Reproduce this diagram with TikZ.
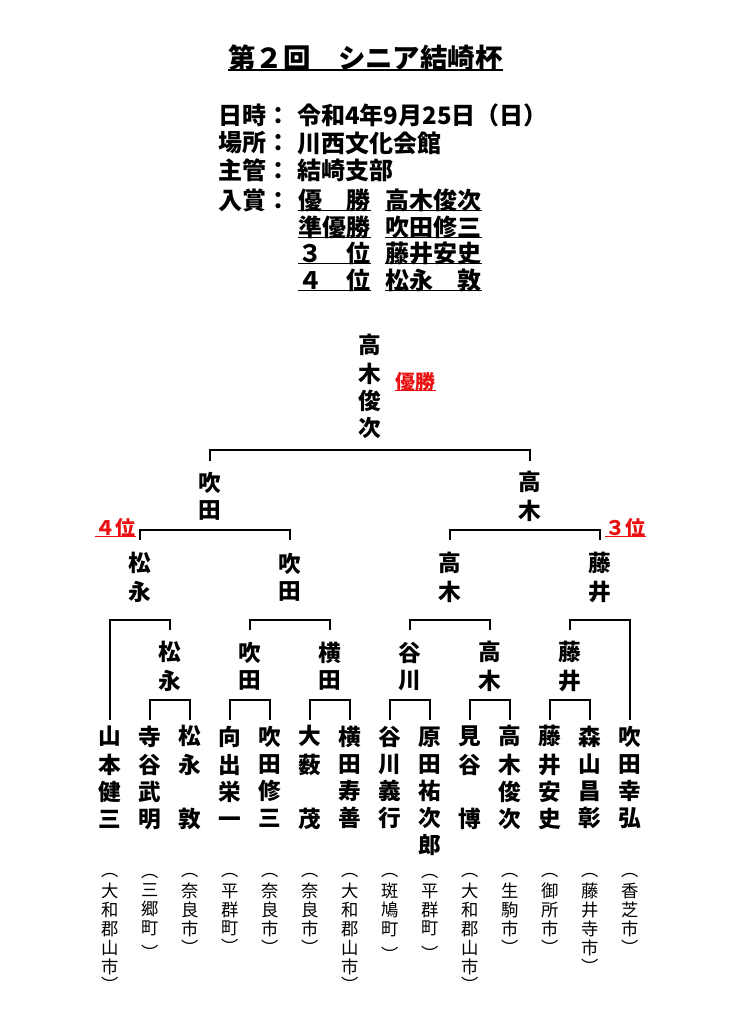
\documentclass[tikz,border=0pt]{standalone}
\usepackage{fontspec}
\setmainfont{Noto Sans CJK JP}
\definecolor{rd}{RGB}{232,16,16}
\newcommand\vb[1]{\strut#1\strut}
\begin{document}
\begin{tikzpicture}[x=0.75pt,y=-0.75pt,line join=miter,
  nm/.style={font=\bfseries\fontsize{17}{20.25}\selectfont, align=center, inner sep=0pt},
  city/.style={font=\fontsize{13}{14.1}\selectfont, align=center, inner sep=0pt},
  info/.style={font=\bfseries\fontsize{18}{21}\selectfont, inner sep=0pt, anchor=west},
  rlab/.style={font=\bfseries\fontsize{15}{18}\selectfont, inner sep=0pt, anchor=west, text=rd},
  br/.style={line width=1.8pt},
  ul/.style={line width=1.1pt},
  rul/.style={line width=1.1pt, draw=rd}]
\path[use as bounding box, fill=white] (0,0) rectangle (731,1021);

% title
\node[font=\bfseries\fontsize{20.6}{24}\selectfont, inner sep=0pt] (title) at (365.5,58) {第２回　シニア結崎杯};
\draw[line width=1.3pt] ([yshift=-1.1pt]title.base west) -- ([yshift=-1.1pt]title.base east);

% info
\node[info] (l1) at (218,115) {日時：};
\node[info] (v1) at (297,115) {令和4年9月25日（日）};
\node[info] (l2) at (218,143) {場所：};
\node[info] (v2) at (297,143) {川西文化会館};
\node[info] (l3) at (218,170) {主管：};
\node[info] (v3) at (297,170) {結崎支部};
\node[info] (l4) at (218,200) {入賞：};
\node[info] (a1) at (298,200) {優　勝};
\node[info] (b1) at (385,200) {高木俊次};
\node[info] (a2) at (298,227) {準優勝};
\node[info] (b2) at (385,227) {吹田修三};
\node[info] (a3) at (298,253) {３　位};
\node[info] (b3) at (385,253) {藤井安史};
\node[info] (a4) at (298,280) {４　位};
\node[info] (b4) at (385,280) {松永　敦};
\foreach \n in {a1,b1,a2,b2,a3,b3,a4,b4}
  \draw[ul] ([yshift=-0.9pt]\n.base west) -- ([yshift=-0.9pt]\n.base east);

% winner and red labels
\node[nm] (w) at (370,389.7) {\vb{高\\木\\俊\\次}};
\node[rlab] (yusho) at (395,382) {優勝};
\draw[rul] ([yshift=-0.9pt]yusho.base west) -- ([yshift=-0.9pt]yusho.base east);
\node[rlab] (p4) at (95,528) {４位};
\draw[rul] ([yshift=-0.8pt]p4.base west) -- ([yshift=-0.8pt]p4.base east);
\node[rlab] (p3) at (605,528) {３位};
\draw[rul] ([yshift=-0.8pt]p3.base west) -- ([yshift=-0.8pt]p3.base east);

% level 1
\node[nm] (s1) at (210,499.7) {\vb{吹\\田}};
\node[nm] (s2) at (530,499.7) {\vb{高\\木}};
% level 2
\node[nm] (q1) at (140,580.7) {\vb{松\\永}};
\node[nm] (q2) at (290,580.7) {\vb{吹\\田}};
\node[nm] (q3) at (450,580.7) {\vb{高\\木}};
\node[nm] (q4) at (600,580.7) {\vb{藤\\井}};
% level 3
\node[nm] (r1) at (170,669.7) {\vb{松\\永}};
\node[nm] (r2) at (250,669.7) {\vb{吹\\田}};
\node[nm] (r3) at (330,669.7) {\vb{横\\田}};
\node[nm] (r4) at (410,669.7) {\vb{谷\\川}};
\node[nm] (r5) at (490,669.7) {\vb{高\\木}};
\node[nm] (r6) at (570,669.7) {\vb{藤\\井}};

% players
\node[nm] (p01) at (110,780.7) {\vb{山\\本\\健\\三}};
\node[nm] (p02) at (150,780.7) {\vb{寺\\谷\\武\\明}};
\node[nm] (p03) at (190,780.7) {\vb{松\\永\\\mbox{}\\敦}};
\node[nm] (p04) at (230,780.7) {\vb{向\\出\\栄\\一}};
\node[nm] (p05) at (270,780.7) {\vb{吹\\田\\修\\三}};
\node[nm] (p06) at (310,780.7) {\vb{大\\薮\\\mbox{}\\茂}};
\node[nm] (p07) at (350,780.7) {\vb{横\\田\\寿\\善}};
\node[nm] (p08) at (390,780.7) {\vb{谷\\川\\義\\行}};
\node[nm] (p09) at (430,794.2) {\vb{原\\田\\祐\\次\\郎}};
\node[nm] (p10) at (470,780.7) {\vb{見\\谷\\\mbox{}\\博}};
\node[nm] (p11) at (510,780.7) {\vb{高\\木\\俊\\次}};
\node[nm] (p12) at (550,780.7) {\vb{藤\\井\\安\\史}};
\node[nm] (p13) at (590,780.7) {\vb{森\\山\\昌\\彰}};
\node[nm] (p14) at (630,780.7) {\vb{吹\\田\\幸\\弘}};

% cities
\node[city] (c01) at (110,930.4) {\vb{︵\\大\\和\\郡\\山\\市\\︶}};
\node[city] (c02) at (150,915.1) {\vb{︵\\三\\郷\\町\\[5.2pt]︶}};
\node[city] (c03) at (190,911.6) {\vb{︵\\奈\\良\\市\\︶}};
\node[city] (c04) at (230,911.6) {\vb{︵\\平\\群\\町\\︶}};
\node[city] (c05) at (270,911.6) {\vb{︵\\奈\\良\\市\\︶}};
\node[city] (c06) at (310,911.6) {\vb{︵\\奈\\良\\市\\︶}};
\node[city] (c07) at (350,930.4) {\vb{︵\\大\\和\\郡\\山\\市\\︶}};
\node[city] (c08) at (390,915.1) {\vb{︵\\斑\\鳩\\町\\[5.2pt]︶}};
\node[city] (c09) at (430,915.1) {\vb{︵\\平\\群\\町\\[5.2pt]︶}};
\node[city] (c10) at (470,930.4) {\vb{︵\\大\\和\\郡\\山\\市\\︶}};
\node[city] (c11) at (510,911.6) {\vb{︵\\生\\駒\\市\\︶}};
\node[city] (c12) at (550,911.6) {\vb{︵\\御\\所\\市\\︶}};
\node[city] (c13) at (590,921.0) {\vb{︵\\藤\\井\\寺\\市\\︶}};
\node[city] (c14) at (630,911.6) {\vb{︵\\香\\芝\\市\\︶}};

% bracket feet
\coordinate (f1a) at (210,461); \coordinate (f1b) at (530,461);
\coordinate (f2a) at (140,540); \coordinate (f2b) at (290,540);
\coordinate (f2c) at (450,540); \coordinate (f2d) at (600,540);
\coordinate (f3a) at (110,720); \coordinate (f3b) at (170,630);
\coordinate (f3c) at (250,630); \coordinate (f3d) at (330,630);
\coordinate (f3e) at (410,630); \coordinate (f3f) at (490,630);
\coordinate (f3g) at (570,630); \coordinate (f3h) at (630,720);

\draw[br] (f1a) -- ++(0,-11) -| (f1b);
\draw[br] (f2a) -- ++(0,-10) -| (f2b);
\draw[br] (f2c) -- ++(0,-10) -| (f2d);
\draw[br] (f3a) -- ++(0,-100) -| (f3b);
\draw[br] (f3c) -- ++(0,-10) -| (f3d);
\draw[br] (f3e) -- ++(0,-10) -| (f3f);
\draw[br] (f3g) -- ++(0,-10) -| (f3h);
\foreach \i/\xa/\xb in {1/150/190,2/230/270,3/310/350,4/390/430,5/470/510,6/550/590}{
  \coordinate (g\i a) at (\xa,720); \coordinate (g\i b) at (\xb,720);
  \draw[br] (g\i a) -- ++(0,-20) -| (g\i b);
}
\end{tikzpicture}
\end{document}
